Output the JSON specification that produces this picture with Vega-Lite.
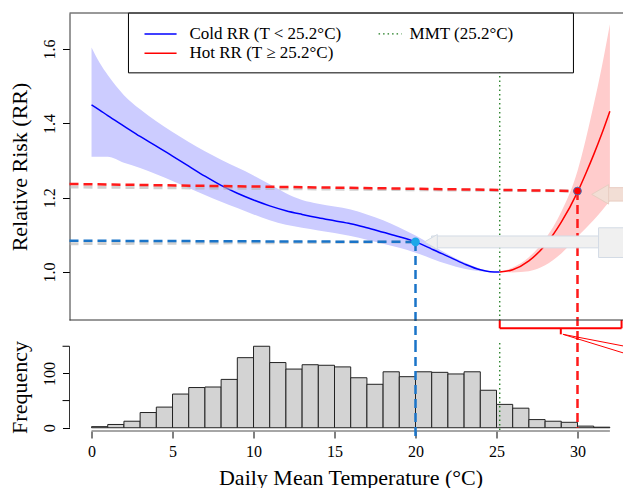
{
  "$schema": "https://vega.github.io/schema/vega-lite/v6.json",
  "background": "white",
  "padding": {"left": 7.5, "top": 12, "right": 0, "bottom": 0},
  "bounds": "flush",
  "spacing": 23,
  "config": {
    "view": {"stroke": null},
    "font": "Liberation Serif",
    "text": {"font": "Liberation Serif"},
    "axis": {
      "labelFont": "Liberation Serif",
      "titleFont": "Liberation Serif",
      "labelFontSize": 16,
      "titleFontSize": 22,
      "titleFontWeight": "normal",
      "labelColor": "black",
      "titleColor": "black",
      "tickColor": "black",
      "domainColor": "#333333",
      "grid": false,
      "tickSize": 7,
      "labelOverlap": false,
      "labelFlush": false
    }
  },
  "datasets": {
    "rr": [
      {"curve": "Cold RR (T < 25.2°C)", "T": 0, "RR": 1.450, "lo": 1.310, "hi": 1.604},
      {"curve": "Cold RR (T < 25.2°C)", "T": 0.5, "RR": 1.436, "lo": 1.310, "hi": 1.563},
      {"curve": "Cold RR (T < 25.2°C)", "T": 1, "RR": 1.421, "lo": 1.310, "hi": 1.530},
      {"curve": "Cold RR (T < 25.2°C)", "T": 2, "RR": 1.393, "lo": 1.294, "hi": 1.476},
      {"curve": "Cold RR (T < 25.2°C)", "T": 3, "RR": 1.365, "lo": 1.280, "hi": 1.438},
      {"curve": "Cold RR (T < 25.2°C)", "T": 4, "RR": 1.339, "lo": 1.263, "hi": 1.406},
      {"curve": "Cold RR (T < 25.2°C)", "T": 5, "RR": 1.312, "lo": 1.245, "hi": 1.377},
      {"curve": "Cold RR (T < 25.2°C)", "T": 6, "RR": 1.285, "lo": 1.226, "hi": 1.350},
      {"curve": "Cold RR (T < 25.2°C)", "T": 7, "RR": 1.258, "lo": 1.207, "hi": 1.325},
      {"curve": "Cold RR (T < 25.2°C)", "T": 8, "RR": 1.233, "lo": 1.189, "hi": 1.302},
      {"curve": "Cold RR (T < 25.2°C)", "T": 9, "RR": 1.212, "lo": 1.172, "hi": 1.281},
      {"curve": "Cold RR (T < 25.2°C)", "T": 10, "RR": 1.194, "lo": 1.155, "hi": 1.260},
      {"curve": "Cold RR (T < 25.2°C)", "T": 11, "RR": 1.178, "lo": 1.139, "hi": 1.236},
      {"curve": "Cold RR (T < 25.2°C)", "T": 12, "RR": 1.165, "lo": 1.127, "hi": 1.212},
      {"curve": "Cold RR (T < 25.2°C)", "T": 13, "RR": 1.155, "lo": 1.119, "hi": 1.194},
      {"curve": "Cold RR (T < 25.2°C)", "T": 14, "RR": 1.146, "lo": 1.112, "hi": 1.184},
      {"curve": "Cold RR (T < 25.2°C)", "T": 15, "RR": 1.138, "lo": 1.105, "hi": 1.176},
      {"curve": "Cold RR (T < 25.2°C)", "T": 16, "RR": 1.130, "lo": 1.097, "hi": 1.168},
      {"curve": "Cold RR (T < 25.2°C)", "T": 17, "RR": 1.119, "lo": 1.087, "hi": 1.155},
      {"curve": "Cold RR (T < 25.2°C)", "T": 18, "RR": 1.107, "lo": 1.076, "hi": 1.139},
      {"curve": "Cold RR (T < 25.2°C)", "T": 19, "RR": 1.095, "lo": 1.065, "hi": 1.120},
      {"curve": "Cold RR (T < 25.2°C)", "T": 20, "RR": 1.081, "lo": 1.052, "hi": 1.098},
      {"curve": "Cold RR (T < 25.2°C)", "T": 21, "RR": 1.062, "lo": 1.036, "hi": 1.073},
      {"curve": "Cold RR (T < 25.2°C)", "T": 22, "RR": 1.042, "lo": 1.021, "hi": 1.048},
      {"curve": "Cold RR (T < 25.2°C)", "T": 23, "RR": 1.022, "lo": 1.009, "hi": 1.026},
      {"curve": "Cold RR (T < 25.2°C)", "T": 24, "RR": 1.006, "lo": 1.002, "hi": 1.009},
      {"curve": "Cold RR (T < 25.2°C)", "T": 24.6, "RR": 1.001, "lo": 1.000, "hi": 1.002},
      {"curve": "Cold RR (T < 25.2°C)", "T": 25.2, "RR": 1.000, "lo": 1.000, "hi": 1.000},
      {"curve": "Hot RR (T ≥ 25.2°C)", "T": 25.2, "RR": 1.000, "lo": 1.000, "hi": 1.000},
      {"curve": "Hot RR (T ≥ 25.2°C)", "T": 26, "RR": 1.006, "lo": 0.999, "hi": 1.012},
      {"curve": "Hot RR (T ≥ 25.2°C)", "T": 27, "RR": 1.030, "lo": 1.002, "hi": 1.040},
      {"curve": "Hot RR (T ≥ 25.2°C)", "T": 28, "RR": 1.072, "lo": 1.018, "hi": 1.088},
      {"curve": "Hot RR (T ≥ 25.2°C)", "T": 29, "RR": 1.134, "lo": 1.050, "hi": 1.162},
      {"curve": "Hot RR (T ≥ 25.2°C)", "T": 30, "RR": 1.215, "lo": 1.095, "hi": 1.272},
      {"curve": "Hot RR (T ≥ 25.2°C)", "T": 30.5, "RR": 1.264, "lo": 1.117, "hi": 1.355},
      {"curve": "Hot RR (T ≥ 25.2°C)", "T": 31, "RR": 1.316, "lo": 1.140, "hi": 1.450},
      {"curve": "Hot RR (T ≥ 25.2°C)", "T": 31.5, "RR": 1.372, "lo": 1.165, "hi": 1.552},
      {"curve": "Hot RR (T ≥ 25.2°C)", "T": 32, "RR": 1.433, "lo": 1.191, "hi": 1.667}
    ],
    "hist": [
      {"bin_start": 0, "bin_end": 1, "count": 2},
      {"bin_start": 1, "bin_end": 2, "count": 6},
      {"bin_start": 2, "bin_end": 3, "count": 12},
      {"bin_start": 3, "bin_end": 4, "count": 28},
      {"bin_start": 4, "bin_end": 5, "count": 38},
      {"bin_start": 5, "bin_end": 6, "count": 62},
      {"bin_start": 6, "bin_end": 7, "count": 74},
      {"bin_start": 7, "bin_end": 8, "count": 75},
      {"bin_start": 8, "bin_end": 9, "count": 89},
      {"bin_start": 9, "bin_end": 10, "count": 129},
      {"bin_start": 10, "bin_end": 11, "count": 150},
      {"bin_start": 11, "bin_end": 12, "count": 120},
      {"bin_start": 12, "bin_end": 13, "count": 108},
      {"bin_start": 13, "bin_end": 14, "count": 116},
      {"bin_start": 14, "bin_end": 15, "count": 115},
      {"bin_start": 15, "bin_end": 16, "count": 112},
      {"bin_start": 16, "bin_end": 17, "count": 92},
      {"bin_start": 17, "bin_end": 18, "count": 80},
      {"bin_start": 18, "bin_end": 19, "count": 103},
      {"bin_start": 19, "bin_end": 20, "count": 94},
      {"bin_start": 20, "bin_end": 21, "count": 103},
      {"bin_start": 21, "bin_end": 22, "count": 102},
      {"bin_start": 22, "bin_end": 23, "count": 99},
      {"bin_start": 23, "bin_end": 24, "count": 103},
      {"bin_start": 24, "bin_end": 25, "count": 69},
      {"bin_start": 25, "bin_end": 26, "count": 43},
      {"bin_start": 26, "bin_end": 27, "count": 36},
      {"bin_start": 27, "bin_end": 28, "count": 15},
      {"bin_start": 28, "bin_end": 29, "count": 12},
      {"bin_start": 29, "bin_end": 30, "count": 10},
      {"bin_start": 30, "bin_end": 31, "count": 3},
      {"bin_start": 31, "bin_end": 32, "count": 1}
    ]
  },
  "vconcat": [
    {
      "width": 554,
      "height": 307,
      "view": {"stroke": null},
      "layer": [
        {
          "data": {"name": "rr"},
          "transform": [{"filter": "test(/^Cold/, datum.curve)"}],
          "mark": {"type": "area", "color": "#ccccff", "interpolate": "monotone"},
          "encoding": {
            "x": {"field": "T", "type": "quantitative", "scale": {"domain": [-1.36, 32.84], "nice": false, "zero": false}, "axis": null},
            "y": {
              "field": "lo", "type": "quantitative",
              "scale": {"domain": [0.8708, 1.6972], "nice": false, "zero": false},
              "axis": {
                "title": "Relative Risk (RR)",
                "values": [1.0, 1.2, 1.4, 1.6],
                "format": ".1f",
                "labelAngle": -90,
                "labelAlign": "center",
                "labelBaseline": "alphabetic",
                "labelPadding": 8,
                "labelOverlap": false,
                "titleAngle": -90,
                "titleX": -50,
                "titleY": 153.5,
                "titleAlign": "center",
                "titleBaseline": "middle"
              }
            },
            "y2": {"field": "hi"}
          }
        },
        {
          "data": {"name": "rr"},
          "transform": [{"filter": "test(/^Hot/, datum.curve)"}],
          "mark": {"type": "area", "color": "#ffcccc", "interpolate": "monotone"},
          "encoding": {
            "x": {"field": "T", "type": "quantitative", "axis": null},
            "y": {"field": "lo", "type": "quantitative"},
            "y2": {"field": "hi"}
          }
        },
        {
          "data": {"values": [{}]},
          "mark": {"type": "rule", "color": "#1e7b1e", "strokeWidth": 1.3, "strokeDash": [1.5, 3]},
          "encoding": {
            "x": {"datum": 25.2, "type": "quantitative", "axis": null}
          }
        },
        {
          "data": {"values": [{}]},
          "mark": {"type": "rect", "fill": "white", "stroke": "black", "strokeWidth": 1},
          "encoding": {
            "x": {"datum": 2.28, "type": "quantitative", "axis": null},
            "x2": {"datum": 29.75},
            "y": {"datum": 1.6972, "type": "quantitative"},
            "y2": {"datum": 1.5361}
          }
        },
        {
          "data": {"values": [{}]},
          "mark": {"type": "rule", "color": "#0000ff", "strokeWidth": 1.5},
          "encoding": {
            "x": {"datum": 3.27, "type": "quantitative", "axis": null},
            "x2": {"datum": 5.25},
            "y": {"datum": 1.641, "type": "quantitative"}
          }
        },
        {
          "data": {"values": [{}]},
          "mark": {"type": "rule", "color": "#ff0000", "strokeWidth": 1.5},
          "encoding": {
            "x": {"datum": 3.27, "type": "quantitative", "axis": null},
            "x2": {"datum": 5.25},
            "y": {"datum": 1.5888, "type": "quantitative"}
          }
        },
        {
          "data": {"values": [{}]},
          "mark": {"type": "rule", "color": "#1e7b1e", "strokeWidth": 1.3, "strokeDash": [1.5, 3]},
          "encoding": {
            "x": {"datum": 17.72, "type": "quantitative", "axis": null},
            "x2": {"datum": 19.14},
            "y": {"datum": 1.641, "type": "quantitative"}
          }
        },
        {
          "data": {"values": [{}]},
          "mark": {"type": "text", "align": "left", "baseline": "middle", "fontSize": 17, "color": "black"},
          "encoding": {
            "x": {"datum": 6.05, "type": "quantitative", "axis": null},
            "y": {"datum": 1.641, "type": "quantitative"},
            "text": {"value": "Cold RR (T < 25.2°C)"}
          }
        },
        {
          "data": {"values": [{}]},
          "mark": {"type": "text", "align": "left", "baseline": "middle", "fontSize": 17, "color": "black"},
          "encoding": {
            "x": {"datum": 6.05, "type": "quantitative", "axis": null},
            "y": {"datum": 1.5888, "type": "quantitative"},
            "text": {"value": "Hot RR (T ≥ 25.2°C)"}
          }
        },
        {
          "data": {"values": [{}]},
          "mark": {"type": "text", "align": "left", "baseline": "middle", "fontSize": 17, "color": "black"},
          "encoding": {
            "x": {"datum": 19.63, "type": "quantitative", "axis": null},
            "y": {"datum": 1.641, "type": "quantitative"},
            "text": {"value": "MMT (25.2°C)"}
          }
        },
        {
          "data": {"name": "rr"},
          "mark": {"type": "line", "strokeWidth": 1.5, "interpolate": "monotone"},
          "encoding": {
            "x": {"field": "T", "type": "quantitative", "axis": null},
            "y": {"field": "RR", "type": "quantitative"},
            "color": {
              "field": "curve", "type": "nominal",
              "scale": {"domain": ["Cold RR (T < 25.2°C)", "Hot RR (T ≥ 25.2°C)"], "range": ["#0000ff", "#ff0000"]},
              "legend": null
            }
          }
        },
        {
          "data": {"values": [{}]},
          "mark": {"type": "rule", "color": "#b0b0b0", "opacity": 0.6, "strokeWidth": 3, "strokeDash": [9, 5], "yOffset": 3},
          "encoding": {
            "x": {"datum": -1.36, "type": "quantitative", "axis": null},
            "y": {"datum": 1.237, "type": "quantitative"},
            "x2": {"datum": 30},
            "y2": {"datum": 1.218}
          }
        },
        {
          "data": {"values": [{}]},
          "mark": {"type": "rule", "color": "#b0b0b0", "opacity": 0.6, "strokeWidth": 3, "strokeDash": [9, 5], "yOffset": 3},
          "encoding": {
            "x": {"datum": -1.36, "type": "quantitative", "axis": null},
            "y": {"datum": 1.0843, "type": "quantitative"},
            "x2": {"datum": 20},
            "y2": {"datum": 1.081}
          }
        },
        {
          "data": {"values": [{}]},
          "mark": {"type": "rule", "color": "#ff1a1a", "strokeWidth": 2.5, "strokeDash": [9, 5]},
          "encoding": {
            "x": {"datum": -1.36, "type": "quantitative", "axis": null},
            "y": {"datum": 1.237, "type": "quantitative"},
            "x2": {"datum": 30},
            "y2": {"datum": 1.218}
          }
        },
        {
          "data": {"values": [{}]},
          "mark": {"type": "rule", "color": "#1a74c8", "strokeWidth": 2.5, "strokeDash": [9, 5]},
          "encoding": {
            "x": {"datum": -1.36, "type": "quantitative", "axis": null},
            "y": {"datum": 1.0843, "type": "quantitative"},
            "x2": {"datum": 20},
            "y2": {"datum": 1.081}
          }
        },
        {
          "data": {"values": [{}]},
          "mark": {"type": "rule", "color": "#ff1a1a", "strokeWidth": 2.5, "strokeDash": [9, 5], "clip": false},
          "encoding": {
            "x": {"datum": 30, "type": "quantitative", "axis": null},
            "y": {"datum": 1.218, "type": "quantitative"},
            "y2": {"datum": 0.8089}
          }
        },
        {
          "data": {"values": [{}]},
          "mark": {"type": "rule", "color": "#1a74c8", "strokeWidth": 2.5, "strokeDash": [9, 5], "clip": false},
          "encoding": {
            "x": {"datum": 20, "type": "quantitative", "axis": null},
            "y": {"datum": 1.081, "type": "quantitative"},
            "y2": {"datum": 0.8089}
          }
        },
        {
          "data": {"values": [{}]},
          "mark": {"type": "rect", "fill": "#f0f0f0", "stroke": "#d3dbe5", "strokeWidth": 1},
          "encoding": {
            "x": {"datum": 20.99, "type": "quantitative", "axis": null},
            "x2": {"datum": 31.3},
            "y": {"datum": 1.065, "type": "quantitative"},
            "y2": {"datum": 1.097}
          }
        },
        {
          "data": {"values": [{}]},
          "mark": {"type": "point", "shape": "triangle-left", "filled": true, "fill": "#f0f0f0", "stroke": "#d3dbe5", "strokeWidth": 1, "size": 220, "opacity": 1},
          "encoding": {
            "x": {"datum": 20.95, "type": "quantitative", "axis": null},
            "y": {"datum": 1.081, "type": "quantitative"}
          }
        },
        {
          "data": {"values": [{}]},
          "mark": {"type": "rect", "fill": "#f0f0f0", "stroke": "#d3dbe5", "strokeWidth": 1},
          "encoding": {
            "x": {"datum": 31.3, "type": "quantitative", "axis": null},
            "x2": {"datum": 32.84},
            "y": {"datum": 1.039, "type": "quantitative"},
            "y2": {"datum": 1.119}
          }
        },
        {
          "data": {"values": [{}]},
          "mark": {"type": "rect", "fill": "#f2ded5", "stroke": "#e8cdc2", "strokeWidth": 1},
          "encoding": {
            "x": {"datum": 31.6, "type": "quantitative", "axis": null},
            "x2": {"datum": 32.84},
            "y": {"datum": 1.191, "type": "quantitative"},
            "y2": {"datum": 1.227}
          }
        },
        {
          "data": {"values": [{}]},
          "mark": {"type": "point", "shape": "triangle-left", "filled": true, "fill": "#f2ded5", "stroke": "#e8cdc2", "strokeWidth": 1, "size": 380, "opacity": 1},
          "encoding": {
            "x": {"datum": 31.4, "type": "quantitative", "axis": null},
            "y": {"datum": 1.209, "type": "quantitative"}
          }
        },
        {
          "data": {"values": [{}]},
          "mark": {"type": "point", "shape": "circle", "filled": true, "fill": "#1ca8e8", "size": 75, "opacity": 1},
          "encoding": {
            "x": {"datum": 20, "type": "quantitative", "axis": null},
            "y": {"datum": 1.081, "type": "quantitative"}
          }
        },
        {
          "data": {"values": [{}]},
          "mark": {"type": "point", "shape": "circle", "filled": true, "fill": "#ff0000", "stroke": "#4a6fb5", "strokeWidth": 1, "size": 60, "opacity": 1},
          "encoding": {
            "x": {"datum": 30, "type": "quantitative", "axis": null},
            "y": {"datum": 1.218, "type": "quantitative"}
          }
        },
        {
          "data": {"values": [{}]},
          "mark": {"type": "rule", "color": "#ff0000", "strokeWidth": 2, "clip": false},
          "encoding": {
            "x": {"datum": 25.2, "type": "quantitative", "axis": null},
            "y": {"datum": 0.8708, "type": "quantitative"},
            "y2": {"datum": 0.8485}
          }
        },
        {
          "data": {"values": [{}]},
          "mark": {"type": "rule", "color": "#ff0000", "strokeWidth": 2, "clip": false},
          "encoding": {
            "x": {"datum": 25.2, "type": "quantitative", "axis": null},
            "x2": {"datum": 32.72},
            "y": {"datum": 0.8485, "type": "quantitative"}
          }
        },
        {
          "data": {"values": [{}]},
          "mark": {"type": "rule", "color": "#ff0000", "strokeWidth": 2, "clip": false},
          "encoding": {
            "x": {"datum": 32.72, "type": "quantitative", "axis": null},
            "y": {"datum": 0.8708, "type": "quantitative"},
            "y2": {"datum": 0.8485}
          }
        },
        {
          "data": {"values": [{}]},
          "mark": {"type": "rule", "color": "#ff0000", "strokeWidth": 2, "clip": false},
          "encoding": {
            "x": {"datum": 28.97, "type": "quantitative", "axis": null},
            "y": {"datum": 0.8485, "type": "quantitative"},
            "y2": {"datum": 0.8323}
          }
        },
        {
          "data": {"values": [{}]},
          "mark": {"type": "rule", "color": "#ff0000", "strokeWidth": 1, "clip": false},
          "encoding": {
            "x": {"datum": 29.1, "type": "quantitative", "axis": null},
            "y": {"datum": 0.8323, "type": "quantitative"},
            "x2": {"datum": 32.84},
            "y2": {"datum": 0.8008}
          }
        },
        {
          "data": {"values": [{}]},
          "mark": {"type": "rule", "color": "#ff0000", "strokeWidth": 1, "clip": false},
          "encoding": {
            "x": {"datum": 29.1, "type": "quantitative", "axis": null},
            "y": {"datum": 0.8323, "type": "quantitative"},
            "x2": {"datum": 32.84},
            "y2": {"datum": 0.782}
          }
        },
        {
          "data": {"values": [{}]},
          "mark": {"type": "rule", "color": "#333333", "strokeWidth": 1, "clip": false},
          "encoding": {
            "x": {"datum": -1.36, "type": "quantitative", "axis": null},
            "x2": {"datum": 32.84},
            "y": {"datum": 1.6972, "type": "quantitative"}
          }
        },
        {
          "data": {"values": [{}]},
          "mark": {"type": "rule", "color": "#333333", "strokeWidth": 1, "clip": false},
          "encoding": {
            "x": {"datum": -1.36, "type": "quantitative", "axis": null},
            "x2": {"datum": 32.84},
            "y": {"datum": 0.8708, "type": "quantitative"}
          }
        }
      ]
    },
    {
      "width": 554,
      "height": 88,
      "view": {"stroke": null},
      "layer": [
        {
          "data": {"name": "hist"},
          "mark": {"type": "rect", "fill": "#d3d3d3", "stroke": "#222222", "strokeWidth": 1},
          "encoding": {
            "x": {
              "field": "bin_start", "type": "quantitative",
              "scale": {"domain": [-1.36, 32.84], "nice": false, "zero": false},
              "axis": {
                "title": "Daily Mean Temperature (°C)",
                "values": [0, 5, 10, 15, 20, 25, 30],
                "domain": false,
                "labelPadding": 5,
                "titleX": 281,
                "titleY": 53,
                "titleBaseline": "alphabetic"
              }
            },
            "x2": {"field": "bin_end"},
            "y": {
              "field": "count", "type": "quantitative",
              "scale": {"domain": [-6, 156], "nice": false, "zero": false},
              "axis": {
                "title": "Frequency",
                "values": [0, 100],
                "format": "d",
                "domain": false,
                "labelOverlap": false,
                "labelAngle": -90,
                "labelAlign": "center",
                "labelBaseline": "alphabetic",
                "labelPadding": 8,
                "titleAngle": -90,
                "titleX": -50,
                "titleY": 44,
                "titleAlign": "center",
                "titleBaseline": "middle"
              }
            },
            "y2": {"datum": 0}
          }
        },
        {
          "data": {"values": [{}]},
          "mark": {"type": "rule", "color": "#1e7b1e", "strokeWidth": 1.3, "strokeDash": [1.5, 3]},
          "encoding": {
            "x": {"datum": 25.2, "type": "quantitative"}
          }
        },
        {
          "data": {"values": [{}]},
          "mark": {"type": "rule", "color": "#888888", "strokeWidth": 1.5, "clip": false},
          "encoding": {
            "x": {"datum": 0, "type": "quantitative"},
            "x2": {"datum": 32},
            "y": {"datum": -6, "type": "quantitative"}
          }
        },
        {
          "data": {"values": [{}]},
          "mark": {"type": "rule", "color": "#333333", "strokeWidth": 1, "clip": false},
          "encoding": {
            "x": {"datum": -1.36, "type": "quantitative"},
            "y": {"datum": 0, "type": "quantitative"},
            "y2": {"datum": 150}
          }
        },
        {
          "data": {"values": [{}]},
          "mark": {"type": "rule", "color": "black", "strokeWidth": 1, "clip": false},
          "encoding": {
            "x": {"datum": -1.79, "type": "quantitative"},
            "x2": {"datum": -1.36},
            "y": {"datum": 50, "type": "quantitative"}
          }
        },
        {
          "data": {"values": [{}]},
          "mark": {"type": "rule", "color": "black", "strokeWidth": 1, "clip": false},
          "encoding": {
            "x": {"datum": -1.79, "type": "quantitative"},
            "x2": {"datum": -1.36},
            "y": {"datum": 150, "type": "quantitative"}
          }
        },
        {
          "data": {"values": [{}]},
          "mark": {"type": "rule", "color": "#ff1a1a", "strokeWidth": 2.5, "strokeDash": [9, 5], "clip": false},
          "encoding": {
            "x": {"datum": 30, "type": "quantitative"},
            "y": {"datum": 156, "type": "quantitative"},
            "y2": {"datum": 0}
          }
        },
        {
          "data": {"values": [{}]},
          "mark": {"type": "rule", "color": "#1a74c8", "strokeWidth": 2.5, "strokeDash": [9, 5], "clip": false},
          "encoding": {
            "x": {"datum": 20, "type": "quantitative"},
            "y": {"datum": 156, "type": "quantitative"},
            "y2": {"datum": -18.5}
          }
        }
      ]
    }
  ]
}
